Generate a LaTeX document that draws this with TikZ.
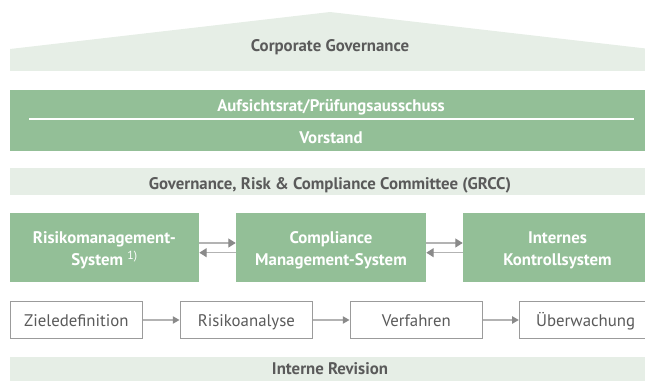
\documentclass[tikz,border=0pt]{standalone}
\usepackage{fontspec}
\setmainfont{PT Sans}
\usetikzlibrary{arrows.meta,calc}
\definecolor{lgreen}{HTML}{E6EEE6}
\definecolor{mgreen}{HTML}{93BF97}
\definecolor{tgray}{HTML}{5A5A5A}
\definecolor{bgray}{HTML}{9B9B9B}
\definecolor{agray}{HTML}{B3B3B3}
\definecolor{hgray}{HTML}{8A8A8A}
\newcommand{\topstrut}{\rule{0pt}{12.6pt}}
\begin{document}
\begin{tikzpicture}[x=0.75pt,y=-0.75pt,
  bartext/.style={font=\fontsize{12.6}{14}\selectfont\bfseries, text=tgray, anchor=base, inner sep=0pt},
  whitetext/.style={font=\fontsize{12.6}{14}\selectfont\bfseries, text=white, anchor=base, inner sep=0pt},
  greenbox/.style={fill=mgreen, draw=none, inner sep=0pt, minimum height=69*0.75pt,
    font=\fontsize{12.6}{16.8}\selectfont\bfseries, text=white, align=center},
  stepbox/.style={draw=bgray, line width=0.75pt, fill=white, inner sep=0pt,
    minimum height=36.6*0.75pt, minimum width=132.7*0.75pt,
    font=\fontsize{12.6}{14}\selectfont, text=tgray, text height=9pt, text depth=0pt},
  garrow/.style={draw=agray, line width=1pt, -{Triangle[length=5.6pt,width=6.75pt,color=hgray]}},
  sarrow/.style={draw=agray, line width=0.9pt, -{Triangle[length=5pt,width=5.5pt,color=hgray]}}
]
\useasboundingbox (0,0) rectangle (645,381);
\begin{scope}
\clip (0,0) rectangle (645,381);
% Corporate Governance roof
\fill[lgreen] (10,71) -- (10,49) -- (330,12) -- (650,49) -- (650,71) -- cycle;
\node[bartext] (cg) at (330,51.7) {Corporate Governance};
% Aufsichtsrat / Vorstand
\fill[mgreen] (10,90) rectangle (650,150.7);
\draw[white, line width=1.5pt] (29,119.5) -- (633.7,119.5);
\node[whitetext] (ar) at (331,111.7) {Aufsichtsrat/Prüfungsausschuss};
\node[whitetext] (vs) at (331,143.3) {Vorstand};
% GRCC
\fill[lgreen] (10,168) rectangle (650,194.7);
\node[bartext] (grcc) at (330,189.5) {Governance, Risk \& Compliance Committee (GRCC)};
% Green boxes
\node[greenbox, minimum width=189*0.75pt] (rms) at (104.5,247.8) {\topstrut Risikomanagement-\\System \textsuperscript{\mdseries 1)}};
\node[greenbox, minimum width=190*0.75pt] (cms) at (331,247.8) {\topstrut Compliance\\Management-System};
\node[greenbox, minimum width=189*0.75pt] (iks) at (557.5,247.8) {\topstrut Internes\\Kontrollsystem};
\draw[garrow] ($(rms.east)+(0,-4.8)$) -- ($(cms.west)+(0,-4.8)$);
\draw[garrow] ($(cms.west)+(0,4.9)$) -- ($(rms.east)+(0,4.9)$);
\draw[garrow] ($(cms.east)+(0,-4.8)$) -- ($(iks.west)+(0,-4.8)$);
\draw[garrow] ($(iks.west)+(0,4.9)$) -- ($(cms.east)+(0,4.9)$);
% Process steps
\node[stepbox] (s1) at (76.35,320) {Zieledefinition};
\node[stepbox] (s2) at (246.35,320) {Risikoanalyse};
\node[stepbox] (s3) at (416.35,320) {Verfahren};
\node[stepbox] (s4) at (585.65,320) {Überwachung};
\draw[sarrow] (s1) -- (s2);
\draw[sarrow] (s2) -- (s3);
\draw[sarrow] (s3) -- (s4);
% Interne Revision
\fill[lgreen] (10,357) rectangle (650,381);
\node[bartext] (ir) at (330,374) {Interne Revision};
\end{scope}
\end{tikzpicture}
\end{document}
